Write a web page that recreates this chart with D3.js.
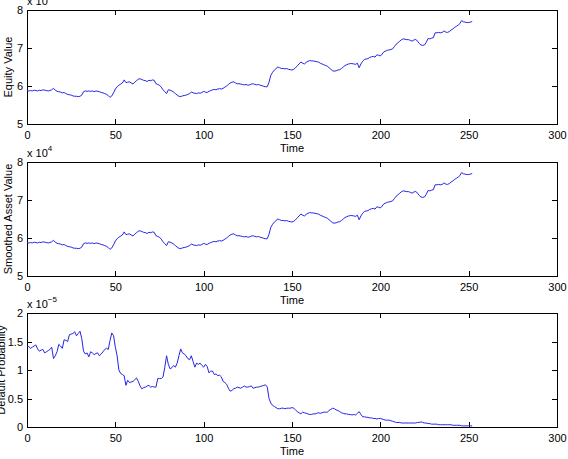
<!DOCTYPE html>
<html>
<head>
<meta charset="utf-8">
<script src="https://cdn.jsdelivr.net/npm/d3@7"></script>
<style>
  body { margin: 0; background: #fff; }
  svg text { font-family: "Liberation Sans", Arial, sans-serif; fill: #000; }
  .axis path { display: none; }
  .axis line { stroke: #000; shape-rendering: crispEdges; }
  .axis text { font-size: 11px; }
</style>
</head>
<body>
<div id="chart"></div>
<script>
// time steps 0..252, equity and asset in units of 1e4, default probability in units of 1e-5
const xTicks = [0, 50, 100, 150, 200, 250, 300];
const valueTicks = [5, 6, 7, 8];
const probTicks = [0, 0.5, 1, 1.5, 2];

const equityValue = [
  5.88,5.87,5.88,5.87,5.89,5.88,5.87,5.89,5.88,5.90,
  5.89,5.88,5.87,5.88,5.90,5.94,5.89,5.86,5.85,5.84,
  5.82,5.83,5.80,5.78,5.77,5.76,5.74,5.73,5.73,5.72,
  5.73,5.76,5.85,5.87,5.86,5.87,5.86,5.87,5.85,5.87,
  5.86,5.85,5.83,5.82,5.80,5.78,5.75,5.70,5.74,5.82,
  5.92,5.98,6.02,6.05,6.08,6.16,6.09,6.10,6.11,6.08,
  6.05,6.10,6.14,6.18,6.19,6.17,6.15,6.14,6.12,6.15,
  6.14,6.16,6.15,6.06,6.04,6.02,5.97,5.90,5.85,5.80,
  5.90,5.89,5.87,5.84,5.80,5.76,5.73,5.72,5.74,5.75,
  5.76,5.78,5.80,5.84,5.82,5.81,5.80,5.82,5.81,5.83,
  5.86,5.84,5.83,5.86,5.88,5.90,5.91,5.90,5.92,5.93,
  5.92,5.94,5.97,6.00,6.04,6.08,6.10,6.11,6.08,6.06,
  6.06,6.05,6.04,6.03,6.04,6.02,6.03,6.05,6.06,6.04,
  6.03,6.04,6.02,6.01,5.99,5.98,5.98,6.10,6.28,6.36,
  6.42,6.46,6.50,6.48,6.46,6.46,6.45,6.46,6.44,6.43,
  6.42,6.44,6.48,6.53,6.58,6.63,6.60,6.58,6.62,6.65,
  6.67,6.66,6.66,6.65,6.64,6.63,6.60,6.58,6.56,6.54,
  6.52,6.48,6.44,6.40,6.39,6.40,6.42,6.43,6.46,6.50,
  6.54,6.56,6.58,6.59,6.59,6.58,6.57,6.60,6.48,6.58,
  6.65,6.70,6.71,6.72,6.75,6.77,6.78,6.76,6.82,6.81,
  6.79,6.84,6.90,6.92,6.94,6.95,6.96,6.98,7.04,7.10,
  7.14,7.18,7.22,7.24,7.23,7.22,7.22,7.20,7.18,7.21,
  7.23,7.18,7.12,7.08,7.07,7.08,7.15,7.25,7.24,7.26,
  7.27,7.40,7.40,7.41,7.40,7.41,7.45,7.42,7.41,7.43,
  7.47,7.50,7.54,7.57,7.60,7.64,7.72,7.69,7.68,7.67,
  7.67,7.68,7.70
];

const smoothedAsset = [
  5.88,5.87,5.88,5.87,5.89,5.88,5.87,5.89,5.88,5.90,
  5.89,5.88,5.87,5.88,5.90,5.94,5.89,5.86,5.85,5.84,
  5.82,5.83,5.80,5.78,5.77,5.76,5.74,5.73,5.73,5.72,
  5.73,5.76,5.85,5.87,5.86,5.87,5.86,5.87,5.85,5.87,
  5.86,5.85,5.83,5.82,5.80,5.78,5.75,5.70,5.74,5.82,
  5.92,5.98,6.02,6.05,6.08,6.16,6.09,6.10,6.11,6.08,
  6.05,6.10,6.14,6.18,6.19,6.17,6.15,6.14,6.12,6.15,
  6.14,6.16,6.15,6.06,6.04,6.02,5.97,5.90,5.85,5.80,
  5.90,5.89,5.87,5.84,5.80,5.76,5.73,5.72,5.74,5.75,
  5.76,5.78,5.80,5.84,5.82,5.81,5.80,5.82,5.81,5.83,
  5.86,5.84,5.83,5.86,5.88,5.90,5.91,5.90,5.92,5.93,
  5.92,5.94,5.97,6.00,6.04,6.08,6.10,6.11,6.08,6.06,
  6.06,6.05,6.04,6.03,6.04,6.02,6.03,6.05,6.06,6.04,
  6.03,6.04,6.02,6.01,5.99,5.98,5.98,6.10,6.28,6.36,
  6.42,6.46,6.50,6.48,6.46,6.46,6.45,6.46,6.44,6.43,
  6.42,6.44,6.48,6.53,6.58,6.63,6.60,6.58,6.62,6.65,
  6.67,6.66,6.66,6.65,6.64,6.63,6.60,6.58,6.56,6.54,
  6.52,6.48,6.44,6.40,6.39,6.40,6.42,6.43,6.46,6.50,
  6.54,6.56,6.58,6.59,6.59,6.58,6.57,6.60,6.48,6.58,
  6.65,6.70,6.71,6.72,6.75,6.77,6.78,6.76,6.82,6.81,
  6.79,6.84,6.90,6.92,6.94,6.95,6.96,6.98,7.04,7.10,
  7.14,7.18,7.22,7.24,7.23,7.22,7.22,7.20,7.18,7.21,
  7.23,7.18,7.12,7.08,7.07,7.08,7.15,7.25,7.24,7.26,
  7.27,7.40,7.40,7.41,7.40,7.41,7.45,7.42,7.41,7.43,
  7.47,7.50,7.54,7.57,7.60,7.64,7.72,7.69,7.68,7.67,
  7.67,7.68,7.70
];

const defaultProb = [
  1.42,1.41,1.38,1.40,1.42,1.44,1.37,1.33,1.35,1.36,
  1.30,1.32,1.34,1.36,1.40,1.20,1.25,1.32,1.45,1.42,
  1.38,1.53,1.52,1.50,1.62,1.63,1.64,1.67,1.60,1.64,
  1.68,1.55,1.33,1.28,1.30,1.23,1.32,1.30,1.27,1.29,
  1.30,1.25,1.28,1.32,1.36,1.38,1.36,1.52,1.65,1.60,
  1.40,1.25,1.00,0.94,0.92,0.90,0.73,0.82,0.78,0.79,
  0.80,0.83,0.86,0.80,0.72,0.67,0.69,0.70,0.72,0.73,
  0.70,0.71,0.70,0.70,0.85,0.85,0.85,0.88,1.05,1.25,
  1.10,1.02,1.04,1.08,1.05,1.12,1.25,1.37,1.30,1.28,
  1.25,1.20,1.18,1.25,1.15,1.05,1.12,1.10,1.12,1.08,
  1.05,1.10,1.06,0.95,0.98,0.98,0.92,0.93,0.90,0.91,
  0.88,0.80,0.78,0.75,0.68,0.63,0.64,0.67,0.68,0.70,
  0.69,0.68,0.70,0.72,0.70,0.70,0.71,0.72,0.68,0.69,
  0.70,0.70,0.71,0.72,0.73,0.74,0.70,0.50,0.42,0.38,
  0.36,0.34,0.32,0.32,0.33,0.33,0.32,0.33,0.33,0.33,
  0.34,0.33,0.30,0.27,0.25,0.23,0.26,0.25,0.24,0.23,
  0.22,0.22,0.23,0.23,0.24,0.25,0.24,0.25,0.26,0.26,
  0.26,0.29,0.31,0.33,0.32,0.30,0.29,0.27,0.25,0.24,
  0.23,0.23,0.22,0.22,0.21,0.22,0.21,0.24,0.27,0.22,
  0.18,0.18,0.17,0.17,0.16,0.16,0.15,0.15,0.14,0.15,
  0.15,0.14,0.13,0.12,0.12,0.12,0.11,0.10,0.09,0.08,
  0.08,0.08,0.07,0.07,0.07,0.07,0.07,0.07,0.07,0.07,
  0.07,0.08,0.08,0.09,0.08,0.07,0.07,0.06,0.06,0.05,
  0.05,0.05,0.05,0.04,0.04,0.04,0.04,0.04,0.04,0.04,
  0.04,0.03,0.03,0.03,0.03,0.03,0.02,0.02,0.02,0.02,
  0.02,0.02,0.02
];

const panels = [
  {top: 10,  values: equityValue,   domain: [5, 8], ticks: valueTicks, label: "Equity Value",         labelX: 8, exp: "4"},
  {top: 162, values: smoothedAsset, domain: [5, 8], ticks: valueTicks, label: "Smoothed Asset Value", labelX: 8, exp: "4"},
  {top: 313, values: defaultProb,   domain: [0, 2], ticks: probTicks,  label: "Default Probability",  labelX: 1, exp: "\u22125"}
];

const W = 568, H = 459;
const left = 27, plotW = 530, plotH = 114;

const svg = d3.select("#chart").append("svg")
    .attr("width", W)
    .attr("height", H);

const x = d3.scaleLinear().domain([0, 300]).range([0, plotW]);

panels.forEach(p => {
    const g = svg.append("g")
        .attr("transform", "translate(" + left + "," + p.top + ")");

    const y = d3.scaleLinear().domain(p.domain).range([plotH, 0]);

    // inward ticks, matlab style
    g.append("g")
        .attr("class", "axis")
        .attr("transform", "translate(0," + plotH + ")")
        .call(d3.axisBottom(x).tickValues(xTicks).tickSizeInner(-5).tickSizeOuter(0).tickPadding(7));
    g.append("g")
        .attr("class", "axis")
        .call(d3.axisTop(x).tickValues(xTicks).tickSizeInner(-5).tickSizeOuter(0).tickFormat(""));
    g.append("g")
        .attr("class", "axis")
        .call(d3.axisLeft(y).tickValues(p.ticks).tickSizeInner(-5).tickSizeOuter(0).tickPadding(4).tickFormat(d3.format("")));
    g.append("g")
        .attr("class", "axis")
        .attr("transform", "translate(" + plotW + ",0)")
        .call(d3.axisRight(y).tickValues(p.ticks).tickSizeInner(-5).tickSizeOuter(0).tickFormat(""));

    g.append("rect")
        .attr("width", plotW)
        .attr("height", plotH)
        .attr("fill", "none")
        .attr("stroke", "#000")
        .attr("stroke-width", 1)
        .attr("shape-rendering", "crispEdges");

    const line = d3.line()
        .x((d, i) => x(i))
        .y(d => y(d));

    g.append("path")
        .datum(p.values)
        .attr("fill", "none")
        .attr("stroke", "#2424e8")
        .attr("stroke-width", 1)
        .attr("d", line);

    // axis titles
    g.append("text")
        .attr("x", plotW / 2)
        .attr("y", plotH + 28)
        .attr("text-anchor", "middle")
        .attr("font-size", "11px")
        .text("Time");

    svg.append("text")
        .attr("transform", "translate(" + (p.labelX + 4) + "," + (p.top + plotH / 2) + ") rotate(-90)")
        .attr("text-anchor", "middle")
        .attr("font-size", "11px")
        .text(p.label);

    // exponent multiplier
    const m = g.append("text")
        .attr("x", 0)
        .attr("y", -5)
        .attr("font-size", "11px");
    m.append("tspan").text("x 10");
    m.append("tspan")
        .attr("dy", -6)
        .attr("font-size", "8px")
        .text(p.exp);
});
</script>
</body>
</html>
